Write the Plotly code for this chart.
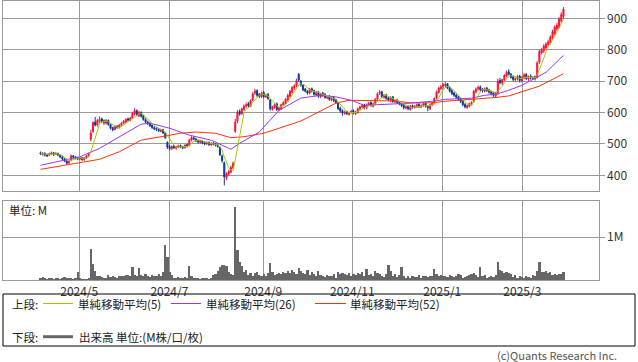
import plotly.graph_objects as go
import pandas as pd

W, H = 638, 362

month_labels = ["2024/5", "2024/7", "2024/9", "2024/11", "2025/1", "2025/3"]
month_pos = [17.7, 58.9, 101.8, 142.5, 183.6, 220.2]
price_ticks = [400, 500, 600, 700, 800, 900]

opens = [
    472, 466, 470, 466, 464, 468, 472, 467, 470, 464,
    458, 452, 446, 440, 448, 462, 458, 456, 452, 456,
    450, 455, 462, 515, 540, 570, 560, 572, 580, 574,
    566, 575, 562, 552, 546, 556, 552, 560, 566, 570,
    580, 575, 582, 596, 606, 590, 600, 590, 578, 570,
    566, 560, 552, 550, 546, 540, 546, 535, 505, 492,
    485, 494, 486, 490, 495, 490, 488, 498, 495, 512,
    520, 516, 510, 505, 509, 504, 500, 505, 497, 503,
    500, 497, 490, 462, 440, 392, 404, 410, 424, 540,
    572, 604, 596, 610, 620, 628, 620, 640, 662, 670,
    658, 650, 664, 650, 658, 640, 610, 616, 628, 608,
    612, 624, 630, 640, 652, 665, 678, 684, 722, 700,
    688, 675, 668, 662, 676, 670, 656, 665, 650, 662,
    658, 646, 652, 640, 648, 640, 630, 614, 606, 597,
    603, 594, 600, 606, 596, 600, 612, 618, 624, 614,
    624, 632, 620, 628, 642, 662, 666, 648, 656, 646,
    638, 650, 634, 640, 632, 628, 624, 614, 620, 610,
    622, 616, 618, 626, 618, 622, 630, 620, 612, 624,
    630, 646, 664, 676, 684, 686, 692, 680, 670, 662,
    656, 650, 644, 636, 626, 616, 620, 626, 635, 666,
    676, 682, 674, 668, 678, 672, 666, 662, 652, 664,
    702, 694, 704, 716, 730, 722, 714, 704, 708, 716,
    700, 710, 722, 706, 716, 708, 714, 712, 760, 790,
    796, 806, 816, 822, 838, 850, 866, 872, 892, 906,
]
highs = [
    476, 474, 473, 469, 472, 476, 474, 473, 472, 466,
    461, 455, 448, 447, 466, 465, 461, 459, 459, 458,
    458, 465, 472, 545, 572, 586, 580, 588, 584, 578,
    579, 578, 565, 555, 559, 560, 563, 570, 576, 582,
    584, 586, 602, 614, 610, 606, 604, 592, 582, 574,
    569, 562, 556, 553, 550, 548, 548, 538, 508, 496,
    495, 497, 493, 498, 498, 494, 499, 501, 516, 525,
    524, 520, 514, 512, 512, 507, 508, 508, 505, 506,
    503, 500, 492, 466, 444, 410, 418, 430, 444, 580,
    608, 610, 616, 626, 632, 634, 642, 665, 676, 674,
    662, 666, 668, 660, 662, 644, 622, 629, 632, 619,
    628, 636, 646, 660, 672, 684, 690, 708, 726, 704,
    690, 678, 671, 679, 680, 673, 669, 668, 663, 666,
    662, 654, 656, 651, 652, 644, 634, 618, 610, 606,
    606, 603, 608, 610, 605, 616, 622, 626, 628, 629,
    634, 636, 632, 646, 664, 672, 669, 659, 660, 650,
    652, 652, 642, 644, 636, 632, 627, 622, 623, 624,
    625, 624, 629, 630, 626, 632, 633, 623, 628, 634,
    648, 670, 682, 688, 694, 698, 694, 684, 674, 666,
    660, 654, 647, 640, 630, 626, 632, 636, 672, 680,
    686, 686, 678, 680, 682, 676, 670, 666, 666, 708,
    710, 708, 722, 734, 738, 726, 718, 712, 720, 720,
    716, 726, 725, 718, 722, 716, 718, 764, 800, 806,
    818, 824, 832, 846, 864, 878, 886, 904, 920, 936,
]
lows = [
    465, 463, 460, 458, 461, 465, 462, 464, 461, 455,
    449, 442, 434, 436, 445, 454, 451, 448, 449, 446,
    446, 452, 458, 508, 535, 556, 555, 566, 566, 560,
    562, 558, 546, 540, 543, 548, 549, 556, 563, 567,
    570, 572, 579, 590, 588, 586, 584, 574, 566, 560,
    554, 548, 544, 541, 538, 537, 532, 516, 484, 480,
    481, 484, 482, 487, 486, 483, 485, 489, 492, 508,
    512, 506, 502, 501, 499, 496, 497, 494, 494, 495,
    492, 488, 462, 440, 368, 385, 398, 406, 420, 535,
    566, 590, 592, 606, 615, 615, 618, 636, 656, 650,
    646, 646, 645, 646, 640, 606, 606, 612, 605, 604,
    608, 620, 626, 636, 648, 660, 672, 680, 698, 682,
    668, 664, 657, 658, 664, 654, 652, 647, 646, 650,
    644, 642, 637, 636, 633, 627, 608, 600, 590, 593,
    592, 590, 596, 594, 592, 597, 608, 614, 610, 610,
    620, 618, 616, 625, 638, 656, 646, 644, 641, 636,
    634, 631, 630, 628, 623, 618, 610, 610, 607, 606,
    612, 612, 614, 614, 614, 618, 616, 604, 608, 620,
    626, 642, 660, 672, 676, 680, 674, 664, 656, 650,
    644, 637, 630, 620, 613, 612, 616, 622, 632, 662,
    670, 668, 664, 664, 666, 660, 655, 650, 646, 656,
    690, 688, 700, 712, 718, 708, 700, 698, 702, 696,
    696, 706, 704, 700, 705, 704, 702, 708, 755, 785,
    790, 800, 810, 816, 832, 846, 860, 868, 886, 900,
]
closes = [
    468, 470, 464, 462, 469, 472, 466, 470, 465, 458,
    452, 445, 438, 444, 462, 458, 455, 452, 456, 450,
    455, 462, 468, 535, 568, 560, 575, 578, 572, 568,
    575, 562, 550, 545, 556, 552, 560, 566, 572, 578,
    576, 582, 598, 606, 592, 600, 588, 578, 570, 565,
    558, 552, 548, 546, 542, 545, 535, 520, 490, 485,
    492, 488, 490, 494, 490, 488, 496, 493, 512, 520,
    516, 510, 506, 509, 503, 500, 505, 498, 502, 499,
    496, 492, 465, 447, 395, 405, 412, 425, 438, 570,
    600, 595, 612, 620, 625, 622, 638, 660, 668, 655,
    652, 662, 650, 655, 645, 612, 618, 625, 610, 615,
    625, 632, 642, 655, 668, 680, 685, 702, 704, 688,
    672, 668, 662, 675, 670, 658, 665, 652, 660, 655,
    648, 650, 642, 648, 638, 632, 612, 605, 598, 602,
    596, 600, 604, 598, 602, 612, 618, 622, 615, 625,
    630, 622, 628, 642, 660, 665, 650, 655, 645, 640,
    648, 635, 638, 632, 628, 622, 615, 618, 612, 620,
    616, 620, 625, 618, 622, 628, 620, 615, 625, 630,
    645, 665, 678, 682, 688, 690, 678, 668, 660, 655,
    648, 642, 635, 625, 618, 622, 628, 632, 668, 675,
    680, 672, 670, 676, 670, 665, 660, 655, 662, 700,
    695, 705, 718, 728, 722, 712, 705, 708, 715, 702,
    712, 720, 708, 714, 710, 712, 708, 758, 795, 800,
    812, 818, 825, 840, 858, 872, 878, 898, 912, 930,
]
volumes = [
    0.06, 0.08, 0.05, 0.04, 0.06, 0.05, 0.04, 0.05, 0.06, 0.04,
    0.05, 0.07, 0.06, 0.05, 0.06, 0.04, 0.05, 0.19, 0.06, 0.04,
    0.03, 0.04, 0.06, 0.73, 0.38, 0.22, 0.10, 0.09, 0.08, 0.06,
    0.05, 0.12, 0.08, 0.10, 0.07, 0.06, 0.09, 0.10, 0.11, 0.13,
    0.12, 0.10, 0.30, 0.13, 0.10, 0.29, 0.12, 0.09, 0.15, 0.10,
    0.08, 0.12, 0.10, 0.09, 0.15, 0.11, 0.20, 0.82, 0.55, 0.20,
    0.12, 0.06, 0.05, 0.07, 0.05, 0.06, 0.08, 0.05, 0.33, 0.10,
    0.06, 0.05, 0.05, 0.04, 0.05, 0.06, 0.05, 0.04, 0.05, 0.12,
    0.15, 0.22, 0.30, 0.35, 0.35, 0.34, 0.20, 0.15, 0.12, 1.70,
    0.70, 0.43, 0.33, 0.20, 0.25, 0.12, 0.18, 0.10, 0.16, 0.20,
    0.12, 0.10, 0.15, 0.10, 0.18, 0.40, 0.20, 0.12, 0.15, 0.18,
    0.14, 0.20, 0.16, 0.22, 0.18, 0.25, 0.20, 0.15, 0.28, 0.22,
    0.18, 0.15, 0.25, 0.12, 0.20, 0.14, 0.10, 0.22, 0.12, 0.10,
    0.08, 0.12, 0.09, 0.10, 0.14, 0.06, 0.20, 0.15, 0.16, 0.14,
    0.12, 0.18, 0.10, 0.15, 0.12, 0.16, 0.14, 0.20, 0.10, 0.27,
    0.12, 0.15, 0.10, 0.22, 0.18, 0.14, 0.10, 0.08, 0.15, 0.36,
    0.22, 0.10, 0.15, 0.08, 0.12, 0.30, 0.10, 0.06, 0.09, 0.05,
    0.10, 0.07, 0.08, 0.12, 0.06, 0.09, 0.10, 0.08, 0.11, 0.09,
    0.27, 0.14, 0.10, 0.12, 0.09, 0.11, 0.08, 0.12, 0.10, 0.08,
    0.10, 0.14, 0.12, 0.06, 0.08, 0.10, 0.12, 0.14, 0.16, 0.12,
    0.08, 0.30, 0.10, 0.12, 0.06, 0.08, 0.09, 0.07, 0.12, 0.43,
    0.25, 0.22, 0.18, 0.20, 0.16, 0.14, 0.08, 0.12, 0.06, 0.09,
    0.07, 0.06, 0.10, 0.08, 0.06, 0.12, 0.10, 0.22, 0.43, 0.20,
    0.20, 0.22, 0.18, 0.20, 0.12, 0.15, 0.13, 0.14, 0.15, 0.20,
]

# moving averages 26 / 52 (day index, value)
ma26_day = [0, 8, 18, 27, 36, 46, 50, 59, 68, 78, 87, 91, 100, 109, 119, 128,
            135, 142, 148, 158, 169, 179, 185, 191, 197, 203, 208, 214, 220, 226, 231, 239]
ma26_val = [432, 443, 459, 486, 522, 563, 566, 550, 528, 512, 483, 502, 538, 607, 646, 655,
            650, 639, 623, 626, 630, 636, 642, 644, 646, 655, 658, 671, 687, 709, 728, 782]
ma52_day = [0, 18, 27, 36, 46, 55, 64, 71, 80, 87, 93, 102, 109, 119, 128, 135,
            141, 151, 162, 169, 179, 185, 197, 208, 214, 220, 228, 239]
ma52_val = [419, 441, 451, 475, 512, 523, 534, 538, 534, 520, 523, 534, 550, 573, 605, 630,
            639, 639, 637, 631, 631, 636, 642, 648, 653, 666, 684, 724]

days = list(range(len(closes)))
ma5 = pd.Series(closes, dtype=float).rolling(5, min_periods=1).mean()

RED = "#F5163F"
BLUE = "#0D3A94"
GRID = "#9A9A9A"
FONT = "Noto Sans CJK JP"

fig = go.Figure()
fig.add_trace(go.Candlestick(
    x=days, open=opens, high=highs, low=lows, close=closes,
    increasing=dict(line=dict(color=RED, width=1), fillcolor=RED),
    decreasing=dict(line=dict(color=BLUE, width=1), fillcolor=BLUE),
    whiskerwidth=0, hoverinfo="skip", xaxis="x", yaxis="y", showlegend=False))
fig.add_trace(go.Scatter(x=ma52_day, y=ma52_val, mode="lines",
                         line=dict(color="#FF3300", width=1), xaxis="x", yaxis="y", showlegend=False))
fig.add_trace(go.Scatter(x=ma26_day, y=ma26_val, mode="lines",
                         line=dict(color="#9933FF", width=1), xaxis="x", yaxis="y", showlegend=False))
fig.add_trace(go.Scatter(x=days, y=ma5, mode="lines",
                         line=dict(color="#99CC00", width=1), xaxis="x", yaxis="y", showlegend=False))
fig.add_trace(go.Bar(x=days, y=volumes, marker=dict(color="#666666", line=dict(width=0)),
                     width=1.0, xaxis="x2", yaxis="y2", showlegend=False))


def X(px):
    return px / W


def Y(py):
    return 1 - py / H


xr = [-17.14, 255.1]
xdom = [X(3), X(598.7)]
axis_common = dict(showline=True, mirror=True, linecolor=GRID, linewidth=1,
                   gridcolor=GRID, gridwidth=1, zeroline=False)

fig.update_layout(
    width=W, height=H, margin=dict(l=0, r=0, t=0, b=0),
    paper_bgcolor="white", plot_bgcolor="white",
    font=dict(family=FONT, size=11, color="#333333"),
    bargap=0, showlegend=False, hovermode=False,
    xaxis=dict(domain=xdom, range=xr, anchor="y", tickvals=month_pos, showticklabels=False,
               ticks="", rangeslider=dict(visible=False), **axis_common),
    yaxis=dict(domain=[Y(190.7), Y(0.5)], range=[351, 957], side="right", anchor="x",
               tickvals=price_ticks, ticks="outside", ticklen=5, tickcolor=GRID,
               tickfont=dict(size=12, color="#333333"), **axis_common),
    xaxis2=dict(domain=xdom, range=xr, anchor="y2", tickvals=month_pos, ticktext=month_labels,
                ticks="", tickfont=dict(size=12, color="#333333"), **axis_common),
    yaxis2=dict(domain=[Y(280.3), Y(201)], range=[0, 1.84], side="right", anchor="x2",
                tickvals=[1], ticktext=["1M"], ticks="outside", ticklen=5, tickcolor=GRID,
                tickfont=dict(size=12, color="#333333"), **axis_common),
)

shapes = [
    dict(type="rect", xref="paper", yref="paper", x0=X(3), x1=X(635), y0=Y(346), y1=Y(294),
         line=dict(color="black", width=1), fillcolor="rgba(0,0,0,0)"),
    dict(type="line", xref="paper", yref="paper", x0=X(43), x1=X(73), y0=Y(303.5), y1=Y(303.5),
         line=dict(color="#99CC00", width=1)),
    dict(type="line", xref="paper", yref="paper", x0=X(171), x1=X(201), y0=Y(303.5), y1=Y(303.5),
         line=dict(color="#9933FF", width=1)),
    dict(type="line", xref="paper", yref="paper", x0=X(315), x1=X(346), y0=Y(303.5), y1=Y(303.5),
         line=dict(color="#FF3300", width=1)),
    dict(type="line", xref="paper", yref="paper", x0=X(43), x1=X(73), y0=Y(336.7), y1=Y(336.7),
         line=dict(color="#666666", width=3)),
]
fig.update_layout(shapes=shapes)


def txt(s, px, py, anchor="left", color="#222222", size=11.5):
    fig.add_annotation(text=s, x=X(px), y=Y(py), xref="paper", yref="paper",
                       xanchor=anchor, yanchor="middle", showarrow=False,
                       font=dict(family=FONT, size=size, color=color))


txt("単位: M", 7, 210)
txt("上段:", 10, 304)
txt("単純移動平均(5)", 76, 304)
txt("単純移動平均(26)", 204, 304)
txt("単純移動平均(52)", 348, 304)
txt("下段:", 10, 337)
txt("出来高 単位:(M株/口/枚)", 77, 337)
txt("(c)Quants Research Inc.", 619, 354.5, anchor="right", color="#555555", size=11)

fig.write_html("out.html", config={"displayModeBar": False},
               post_script="document.body.style.margin='0';document.body.style.padding='0';")
